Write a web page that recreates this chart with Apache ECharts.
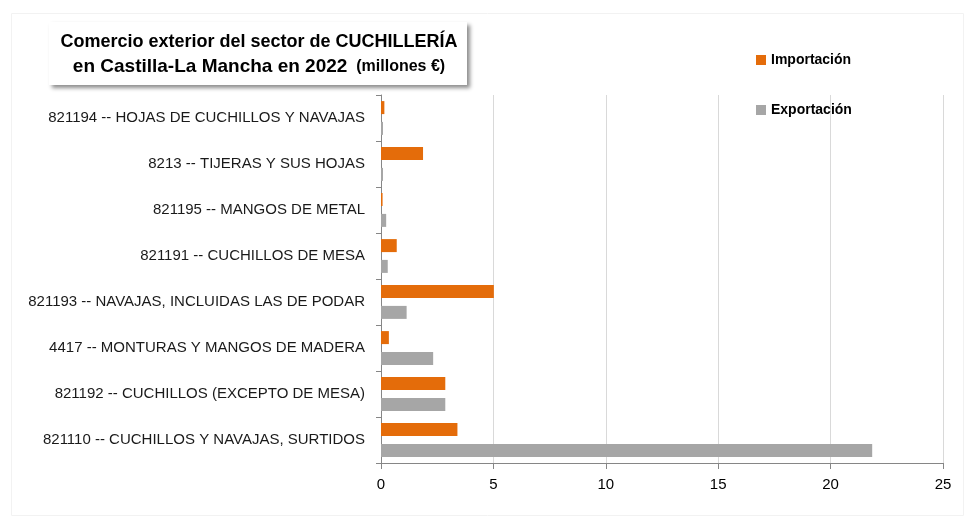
<!DOCTYPE html>
<html><head><meta charset="utf-8">
<script src="https://cdn.jsdelivr.net/npm/echarts@6/dist/echarts.min.js"></script>
<style>html,body{margin:0;padding:0;background:#fff}#c{width:968px;height:523px}</style>
</head><body><div id="c"></div>
<script>
const categories = [
  '821110 -- CUCHILLOS Y NAVAJAS, SURTIDOS',
  '821192 -- CUCHILLOS (EXCEPTO DE MESA)',
  '4417 -- MONTURAS Y MANGOS DE MADERA',
  '821193 -- NAVAJAS, INCLUIDAS LAS DE PODAR',
  '821191 -- CUCHILLOS DE MESA',
  '821195 -- MANGOS DE METAL',
  '8213 -- TIJERAS Y SUS HOJAS',
  '821194 -- HOJAS DE CUCHILLOS Y NAVAJAS'
];
const importacion = [3.4, 2.86, 0.35, 5.02, 0.7, 0.07, 1.87, 0.15];
const exportacion = [21.85, 2.86, 2.32, 1.14, 0.3, 0.23, 0.09, 0.09];
const xTicks = [0, 5, 10, 15, 20, 25];

const chart = echarts.init(document.getElementById('c'), null, {renderer: 'canvas'});
const font = 'Liberation Sans, sans-serif';
chart.setOption({
  animation: false,
  backgroundColor: '#fff',
  grid: {left: 381, right: 25, top: 95, bottom: 60},
  legend: {
    data: ['Importación', 'Exportación'],
    orient: 'vertical', left: 751, top: 48, itemGap: 36,
    itemWidth: 10, itemHeight: 10, icon: 'rect',
    textStyle: {fontFamily: font, fontWeight: 'bold', fontSize: 14, color: '#000'}
  },
  xAxis: {
    type: 'value', min: xTicks[0], max: xTicks[xTicks.length - 1], interval: 5,
    axisLine: {show: true, lineStyle: {color: '#868686', width: 1}},
    axisTick: {show: true, length: 6, lineStyle: {color: '#868686'}},
    splitLine: {show: true, lineStyle: {color: '#D9D9D9', width: 1}},
    axisLabel: {fontFamily: font, fontSize: 15, color: '#000', margin: 14}
  },
  yAxis: {
    type: 'category', data: categories,
    axisLine: {show: true, lineStyle: {color: '#868686', width: 1}},
    axisTick: {show: true, length: 5, lineStyle: {color: '#868686'}},
    axisLabel: {fontFamily: font, fontSize: 15, color: '#1a1a1a', margin: 16}
  },
  series: [
    {name: 'Importación', type: 'bar', data: importacion, barWidth: 13, barGap: '60%',
     itemStyle: {color: '#E46C0A'}},
    {name: 'Exportación', type: 'bar', data: exportacion, barWidth: 13, barGap: '60%',
     itemStyle: {color: '#A6A6A6'}}
  ],
  graphic: [
    {type: 'rect', left: 9, top: 11, shape: {width: 952, height: 502},
     style: {fill: 'none', stroke: '#F2F2F2', lineWidth: 1}, silent: true, z: -1},
    {type: 'rect', left: 49, top: 22, shape: {width: 418, height: 63},
     style: {fill: '#fff', shadowBlur: 4, shadowOffsetX: 3, shadowOffsetY: 3, shadowColor: 'rgba(0,0,0,0.45)'}, z: 10},
    {type: 'text', x: 259, y: 42, z: 11,
     style: {text: 'Comercio exterior del sector de CUCHILLERÍA', fill: '#000',
       font: 'bold 18px Liberation Sans, sans-serif', textAlign: 'center', textVerticalAlign: 'middle'}},
    {type: 'text', x: 259, y: 67, z: 11,
     style: {text: '{a|en Castilla-La Mancha en 2022}{b|  (millones €)}', fill: '#000', textAlign: 'center', textVerticalAlign: 'middle',
       rich: {a: {font: 'bold 19px Liberation Sans, sans-serif', fill: '#000'},
              b: {font: 'bold 16px Liberation Sans, sans-serif', fill: '#000'}}}}
  ]
});
</script></body></html>
